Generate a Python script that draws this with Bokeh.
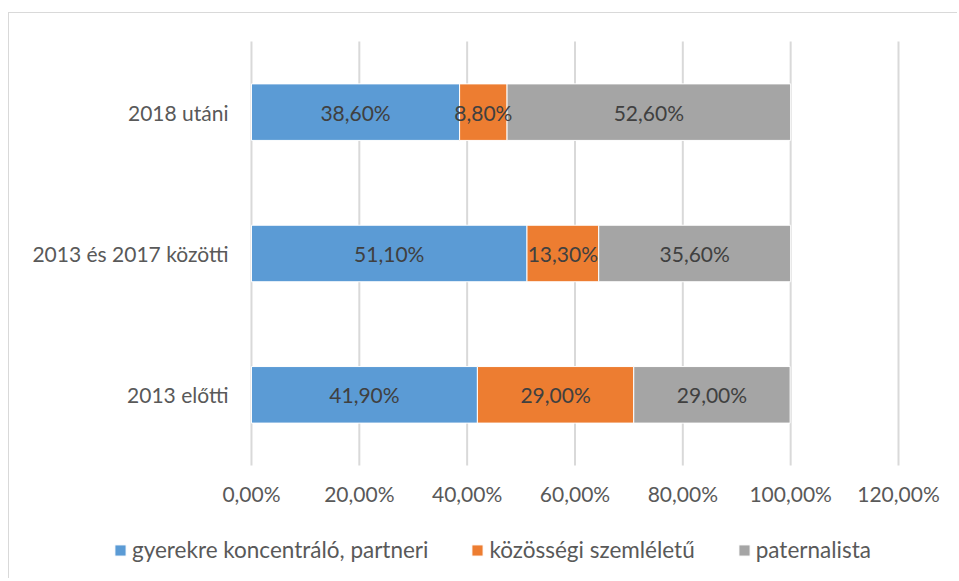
from bokeh.plotting import figure
from bokeh.models import ColumnDataSource, Range1d, LabelSet, Legend, LegendItem
from bokeh.core.properties import value
from bokeh.embed import file_html
from bokeh.resources import INLINE

# ---- data ----
categories = ["2013 előtti", "2013 és 2017 közötti", "2018 utáni"]
series_names = ["gyerekre koncentráló, partneri", "közösségi szemléletű", "paternalista"]
partneri = [41.9, 51.1, 38.6]
kozossegi = [29.0, 13.3, 8.8]
paternalista = [29.0, 35.6, 52.6]
x_ticks = [0, 20, 40, 60, 80, 100, 120]

colors = ["#5B9BD5", "#ED7D31", "#A5A5A5"]
FONT = "Lato"
TXT = "#595959"

n_cat = len(categories)
ypos = [i + 0.5 for i in range(n_cat)]   # category slots
keys = ["partneri", "kozossegi", "paternalista"]
src = ColumnDataSource(dict(y=ypos, cat=categories, partneri=partneri,
                            kozossegi=kozossegi, paternalista=paternalista))

# the frame spans the whole chart; the value axis 0..120 sits in the middle part
p = figure(width=949, height=566, output_backend="svg", toolbar_location=None,
           x_range=Range1d(-44.88, 131.13), y_range=Range1d(-0.8066, 3.198),
           min_border_left=0, min_border_right=0, min_border_top=0,
           min_border_bottom=0, x_axis_location=None, y_axis_location=None)
p.styles = {"margin-left": "8px", "margin-top": "12px",
            "border-top": "1px solid #D9D9D9", "border-left": "1px solid #D9D9D9"}
p.outline_line_color = None
p.grid.visible = False

# vertical grid lines at the ticks, spanning the category area
gsrc = ColumnDataSource(dict(x=x_ticks, y0=[0] * len(x_ticks), y1=[n_cat] * len(x_ticks),
                             lab=[f"{t:.2f}".replace(".", ",") + "%" for t in x_ticks]))
p.segment(x0="x", y0="y0", x1="x", y1="y1", source=gsrc, line_color="#D9D9D9",
          line_width=2)
# tick labels
p.text(x="x", y="y0", text="lab", source=gsrc, y_offset=28, text_align="center",
       text_baseline="middle", text_font=value(FONT), text_font_size="21px",
       text_color=TXT)

renderers = p.hbar_stack(keys, y="y", height=0.40, source=src, color=colors,
                         line_color="white", line_width=1)

# category labels (left of the 0 line)
csrc = ColumnDataSource(dict(x=[0] * n_cat, y=ypos, t=categories))
p.text(x="x", y="y", text="t", source=csrc, x_offset=-23, text_align="right",
       text_baseline="middle", text_font=value(FONT), text_font_size="21px",
       text_color=TXT)

# data labels
lab_x, lab_y, lab_t = [], [], []
vals = [partneri, kozossegi, paternalista]
for i in range(n_cat):
    left = 0.0
    for s in range(3):
        v = vals[s][i]
        lab_x.append(left + v / 2)
        lab_y.append(ypos[i])
        lab_t.append(f"{v:.2f}".replace(".", ",") + "%")
        left += v
lsrc = ColumnDataSource(dict(x=lab_x, y=lab_y, t=lab_t))
p.add_layout(LabelSet(x="x", y="y", text="t", source=lsrc, text_align="center",
                      text_baseline="middle", text_font=value(FONT),
                      text_font_size="21px", text_color="#404040"))

legend = Legend(items=[LegendItem(label=n, renderers=[r]) for n, r in zip(series_names, renderers)],
                orientation="horizontal", location=(104, 16),
                label_text_font=FONT, label_text_font_size="22.5px",
                label_text_color=TXT, glyph_width=14, glyph_height=14,
                label_standoff=5, spacing=42, padding=0, margin=0,
                border_line_color=None, background_fill_alpha=0)
p.add_layout(legend)

open("out.html", "w").write(file_html(p, INLINE))
